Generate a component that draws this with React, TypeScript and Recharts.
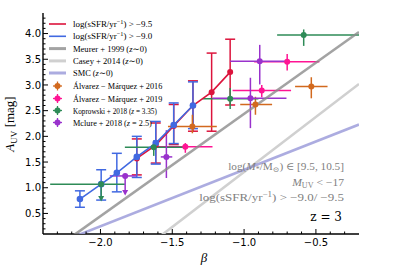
import React, { useLayoutEffect, useRef, useState } from 'react';
import { ComposedChart, Scatter, XAxis, YAxis, ErrorBar } from 'recharts';

// ---------- axes ----------
const xDomain = [-2.4, -0.2];
const yDomain = [0.1, 4.4];
const xTickValues = [-2.3, -2.2, -2.1, -2.0, -1.9, -1.8, -1.7, -1.6, -1.5, -1.4, -1.3, -1.2, -1.1, -1.0, -0.9, -0.8, -0.7, -0.6, -0.5, -0.4, -0.3];
const xMajorTicks = [-2.0, -1.5, -1.0, -0.5];
const xTickLabels = ['−2.0', '−1.5', '−1.0', '−0.5'];
const yTickValues = [0.2, 0.3, 0.4, 0.5, 0.6, 0.7, 0.8, 0.9, 1.0, 1.1, 1.2, 1.3, 1.4, 1.5, 1.6, 1.7, 1.8, 1.9, 2.0, 2.1, 2.2, 2.3, 2.4, 2.5, 2.6, 2.7, 2.8, 2.9, 3.0, 3.1, 3.2, 3.3, 3.4, 3.5, 3.6, 3.7, 3.8, 3.9, 4.0, 4.1, 4.2, 4.3];
const yMajorTicks = [0.5, 1.0, 1.5, 2.0, 2.5, 3.0, 3.5, 4.0];
const yTickLabels = ['0.5', '1.0', '1.5', '2.0', '2.5', '3.0', '3.5', '4.0'];

// ---------- relations ----------
const meurerBeta = [-2.4, -0.2];
const meurerA = [-0.35, 4.03];
const caseyBeta = [-2.4, -0.2];
const caseyA = [-1.69, 3.02];
const smcBeta = [-2.4, -0.2];
const smcA = [-0.19, 2.23];

// ---------- this work ----------
const redBeta = [-1.747, -1.615, -1.49, -1.356, -1.226, -1.097];
const redA = [1.57, 1.83, 2.2, 2.6, 2.86, 3.25];
const redALo = [1.25, 1.48, 1.84, 2.1, 2.1, 2.61];
const redAHi = [1.95, 2.26, 2.62, 3.08, 3.62, 3.89];

const blueBeta = [-2.143, -1.995, -1.886, -1.747, -1.615, -1.49, -1.356];
const blueA = [0.78, 1.07, 1.29, 1.6, 1.87, 2.22, 2.6];
const blueALo = [0.62, 0.76, 0.92, 1.2, 1.46, 1.86, 2.15];
const blueAHi = [0.94, 1.35, 1.67, 2.0, 2.29, 2.65, 3.06];

// ---------- literature ----------
const am16Beta = [-1.36, -0.921, -0.532];
const am16A = [2.19, 2.62, 2.97];
const am16BetaLo = [-1.53, -1.027, -0.645];
const am16BetaHi = [-1.19, -0.805, -0.419];
const am16ALo = [2.06, 2.42, 2.74];
const am16AHi = [2.42, 2.77, 3.15];

const am19Beta = [-1.409, -0.877, -0.7];
const am19A = [1.8, 2.89, 3.45];
const am19BetaLo = [-1.61, -1.08, -0.93];
const am19BetaHi = [-1.22, -0.673, -0.476];
const am19ALo = [1.68, 2.76, 3.28];
const am19AHi = [1.87, 3.0, 3.6];

const kopBeta = [-1.995, -1.629, -1.097, -0.585];
const kopA = [1.07, 1.79, 2.73, 3.97];
const kopBetaLo = [-2.35, -1.83, -1.29, -0.77];
const kopBetaHi = [-1.83, -1.42, -0.9, -0.2];
const kopALo = [0.78, 1.62, 2.53, 3.76];
const kopAHi = [1.07, 1.92, 2.94, 4.08];
const kopLimitBeta = [-1.995];
const kopLimitA = [0.78];

const mclBeta = [-1.828, -1.541, -0.956, -0.891];
const mclA = [1.23, 1.6, 2.74, 3.46];
const mclBetaLo = [-1.935, -1.58, -1.22, -1.097];
const mclBetaHi = [-1.75, -1.5, -0.705, -0.7];
const mclALo = [0.9, 1.19, 2.16, 3.01];
const mclAHi = [1.23, 2.12, 3.14, 3.78];
const mclLimitBeta = [-1.828];
const mclLimitA = [0.9];

// ---------- labels ----------
const legendLabels = [
  'log(sSFR/yr^−1^) > −9.5',
  'log(sSFR/yr^−1^) > −9.0',
  'Meurer + 1999 (|z|∼0)',
  'Casey + 2014 (|z|∼0)',
  'SMC (|z|∼0)',
  'Álvarez − Márquez + 2016',
  'Álvarez − Márquez + 2019',
  'Koprowski + 2018 (|z| = 3.35)',
  'Mclure + 2018 (|z| = 2.5)',
];
const noteLabels = ['log(|M|_*_/M_⊙_) ∈ [9.5, 10.5]', '|M|_UV_ < −17', 'log(sSFR/yr^−1^) > −9.0/ −9.5'];
const redshiftLabel = 'z = 3';
const yLabel = '|A|_UV_ [mag]';
const xLabel = '|β|';

// ---------- colours ----------
const RED = '#dc143c';
const BLUE = '#4169e1';
const ORANGE = '#d2691e';
const PINK = '#ff1493';
const GREEN = '#2e8b57';
const PURPLE = '#9932cc';
const MEURER = '#8c8c8c';
const CASEY = '#d0d0d0';
const SMC = '#a3a3dd';

const SERIF = '"Liberation Serif", "DejaVu Serif", serif';
const SANS = '"DejaVu Sans", sans-serif';

// text widths (layout only)
const legendTextWidths = [80, 80, 74, 70, 40, 90, 90, 84, 79];
const noteTextWidths = [116, 53, 145];

const pts = (b: number[], a: number[]) => b.map((x, i) => ({ x, y: a[i] }));
const withErr = (b: number[], a: number[], bLo: number[] | null, bHi: number[] | null, aLo: number[], aHi: number[]) =>
  b.map((x, i) => ({
    x,
    y: a[i],
    ex: bLo && bHi ? [x - bLo[i], bHi[i] - x] : [0, 0],
    ey: [a[i] - aLo[i], aHi[i] - a[i]],
  }));

const renderRich = (s: string, fs: number) => {
  const toks = s.split(/(\^[^\^]*\^|_[^_]*_|\|[^|]*\|)/).filter((t) => t.length > 0);
  let shift = 0;
  return toks.map((t, i) => {
    let target = 0;
    let txt = t;
    const st: any = {};
    if (t[0] === '^') {
      target = -0.38 * fs;
      txt = t.slice(1, -1);
      st.fontSize = fs * 0.7;
    } else if (t[0] === '_') {
      target = 0.22 * fs;
      txt = t.slice(1, -1);
      st.fontSize = fs * 0.7;
    } else if (t[0] === '|') {
      txt = t.slice(1, -1);
      st.fontStyle = 'italic';
    }
    const dy = target - shift;
    shift = target;
    return (
      <tspan key={i} dy={dy} style={st}>
        {txt}
      </tspan>
    );
  });
};

// text that is stretched horizontally to a given width
const FitText = (props: any) => {
  const { x, y, width, anchor, fontSize, fill, fontFamily, text } = props;
  const ref = useRef<SVGTextElement>(null);
  const [s, setS] = useState(1);
  useLayoutEffect(() => {
    if (ref.current) {
      const w = ref.current.getBBox().width;
      if (w > 0) setS(width / w);
    }
  }, [width, text]);
  return (
    <g transform={`translate(${x},${y}) scale(${s},1)`}>
      <text ref={ref} x={0} y={0} textAnchor={anchor || 'start'} fontFamily={fontFamily} fontSize={fontSize} fill={fill} style={{ whiteSpace: 'pre' }}>
        {renderRich(text, fontSize)}
      </text>
    </g>
  );
};

const near = (arr: number[], v: number) => arr.findIndex((m) => Math.abs(m - v) < 1e-6);

const XTickBottom = (p: any) => {
  const k = near(xMajorTicks, p.payload.value);
  return (
    <g>
      <line x1={p.x} x2={p.x} y1={p.y} y2={p.y - (k >= 0 ? 5 : 2.5)} stroke="#000" strokeWidth={1} />
      {k >= 0 && (
        <text x={p.x} y={p.y + 12} textAnchor="middle" fontFamily={SANS} fontSize={10} fill="#000">
          {xTickLabels[k]}
        </text>
      )}
    </g>
  );
};
const XTickTop = (p: any) => {
  const k = near(xMajorTicks, p.payload.value);
  return <line x1={p.x} x2={p.x} y1={p.y} y2={p.y + (k >= 0 ? 5 : 2.5)} stroke="#000" strokeWidth={1} />;
};
const YTickLeft = (p: any) => {
  const k = near(yMajorTicks, p.payload.value);
  return (
    <g>
      <line x1={p.x} x2={p.x + (k >= 0 ? 5 : 2.5)} y1={p.y} y2={p.y} stroke="#000" strokeWidth={1} />
      {k >= 0 && (
        <text x={p.x - 2} y={p.y + 3.6} textAnchor="end" fontFamily={SANS} fontSize={10} fill="#000">
          {yTickLabels[k]}
        </text>
      )}
    </g>
  );
};
const YTickRight = (p: any) => {
  const k = near(yMajorTicks, p.payload.value);
  return <line x1={p.x} x2={p.x - (k >= 0 ? 5 : 2.5)} y1={p.y} y2={p.y} stroke="#000" strokeWidth={1} />;
};

const dot = (color: string, r: number) => (p: any) => <circle cx={p.cx} cy={p.cy} r={r} fill={color} stroke="none" />;
const arrowDown = (color: string) => (p: any) => (
  <path d={`M${p.cx - 3},${p.cy - 3}L${p.cx + 3},${p.cy - 3}L${p.cx},${p.cy + 2.5}Z`} fill={color} />
);
const noShape = () => <g />;

const legendStyles = [
  { kind: 'line', color: RED, w: 1.6, op: 1 },
  { kind: 'line', color: BLUE, w: 1.6, op: 1 },
  { kind: 'line', color: MEURER, w: 3, op: 0.8 },
  { kind: 'line', color: CASEY, w: 3, op: 1 },
  { kind: 'line', color: SMC, w: 3, op: 0.9 },
  { kind: 'mark', color: ORANGE },
  { kind: 'mark', color: PINK },
  { kind: 'mark', color: GREEN },
  { kind: 'mark', color: PURPLE },
];
const legendRowY = [24, 36.3, 48.6, 60.9, 73, 86, 98.5, 110.5, 122.5];

const LegendBox = () => (
  <g>
    {legendStyles.map((s, i) => {
      const y = legendRowY[i];
      return (
        <g key={i}>
          {s.kind === 'line' ? (
            <line x1={49} x2={66} y1={y} y2={y} stroke={s.color} strokeWidth={s.w} strokeOpacity={s.op} />
          ) : (
            <g>
              <line x1={53} x2={62} y1={y} y2={y} stroke={s.color} strokeWidth={1.3} />
              <line x1={57.5} x2={57.5} y1={y - 4.5} y2={y + 4.5} stroke={s.color} strokeWidth={1.3} />
              <circle cx={57.5} cy={y} r={3} fill={s.color} />
            </g>
          )}
          <FitText x={73} y={y + 3} width={legendTextWidths[i]} fontSize={8.8} fontFamily={SERIF} fill="#000" text={legendLabels[i]} />
        </g>
      );
    })}
  </g>
);

export default function App() {
  const meurer = pts(meurerBeta, meurerA);
  const casey = pts(caseyBeta, caseyA);
  const smc = pts(smcBeta, smcA);
  const red = withErr(redBeta, redA, null, null, redALo, redAHi);
  const blue = withErr(blueBeta, blueA, null, null, blueALo, blueAHi);
  const am16 = withErr(am16Beta, am16A, am16BetaLo, am16BetaHi, am16ALo, am16AHi);
  const am19 = withErr(am19Beta, am19A, am19BetaLo, am19BetaHi, am19ALo, am19AHi);
  const kop = withErr(kopBeta, kopA, kopBetaLo, kopBetaHi, kopALo, kopAHi);
  const mcl = withErr(mclBeta, mclA, mclBetaLo, mclBetaHi, mclALo, mclAHi);
  const kopLim = pts(kopLimitBeta, kopLimitA);
  const mclLim = pts(mclLimitBeta, mclLimitA);

  const lit = [
    { d: am16, c: ORANGE },
    { d: am19, c: PINK },
    { d: kop, c: GREEN },
    { d: mcl, c: PURPLE },
  ];

  return (
    <div style={{ position: 'absolute', left: 0, top: 0, width: 399, height: 266, background: '#fff' }}>
      <ComposedChart width={399} height={266} margin={{ top: 13, right: 40, bottom: 0, left: 0 }}>
        <XAxis
          xAxisId={0}
          dataKey="x"
          type="number"
          domain={xDomain}
          allowDataOverflow
          ticks={xTickValues}
          interval={0}
          height={32}
          tickSize={0}
          tickMargin={0}
          tickLine={false}
          tick={XTickBottom}
          axisLine={{ stroke: '#000', strokeWidth: 1.4 }}
        />
        <XAxis
          xAxisId="top"
          orientation="top"
          dataKey="x"
          type="number"
          domain={xDomain}
          allowDataOverflow
          ticks={xTickValues}
          interval={0}
          height={0}
          tickSize={0}
          tickMargin={0}
          tickLine={false}
          tick={XTickTop}
          axisLine={{ stroke: '#000', strokeWidth: 1.4 }}
        />
        <YAxis
          yAxisId={0}
          dataKey="y"
          type="number"
          domain={yDomain}
          allowDataOverflow
          ticks={yTickValues}
          interval={0}
          width={43}
          tickSize={0}
          tickMargin={0}
          tickLine={false}
          tick={YTickLeft}
          axisLine={{ stroke: '#000', strokeWidth: 1.4 }}
        />
        <YAxis
          yAxisId="right"
          orientation="right"
          dataKey="y"
          type="number"
          domain={yDomain}
          allowDataOverflow
          ticks={yTickValues}
          interval={0}
          width={0}
          tickSize={0}
          tickMargin={0}
          tickLine={false}
          tick={YTickRight}
          axisLine={{ stroke: '#000', strokeWidth: 1.4 }}
        />

        <Scatter data={meurer} line={{ stroke: MEURER, strokeWidth: 2.6, strokeOpacity: 0.8 }} shape={noShape} isAnimationActive={false} />
        <Scatter data={casey} line={{ stroke: CASEY, strokeWidth: 2.6 }} shape={noShape} isAnimationActive={false} />
        <Scatter data={smc} line={{ stroke: SMC, strokeWidth: 2.6, strokeOpacity: 0.9 }} shape={noShape} isAnimationActive={false} />

        <Scatter data={red} line={{ stroke: RED, strokeWidth: 1.6 }} shape={dot(RED, 3)} isAnimationActive={false}>
          <ErrorBar dataKey="ey" direction="y" width={5} stroke={RED} strokeWidth={1.5} />
        </Scatter>
        <Scatter data={blue} line={{ stroke: BLUE, strokeWidth: 1.6 }} shape={dot(BLUE, 3.3)} isAnimationActive={false}>
          <ErrorBar dataKey="ey" direction="y" width={5} stroke={BLUE} strokeWidth={1.5} />
        </Scatter>

        {lit.map((s, i) => (
          <Scatter key={i} data={s.d} shape={dot(s.c, 3)} isAnimationActive={false}>
            <ErrorBar dataKey="ex" direction="x" width={0} stroke={s.c} strokeWidth={1.5} />
            <ErrorBar dataKey="ey" direction="y" width={0} stroke={s.c} strokeWidth={1.5} />
          </Scatter>
        ))}
        <Scatter data={kopLim} shape={arrowDown(GREEN)} isAnimationActive={false} />
        <Scatter data={mclLim} shape={arrowDown(PURPLE)} isAnimationActive={false} />
      </ComposedChart>
      <svg width={399} height={266} style={{ position: 'absolute', left: 0, top: 0, pointerEvents: 'none' }}>
        <LegendBox />
        {noteLabels.map((t, i) => (
          <FitText key={i} x={344} y={170 + i * 15.7} anchor="end" width={noteTextWidths[i]} fontSize={10.5} fontFamily={SERIF} fill="#808080" text={t} />
        ))}
        <text x={342} y={220.5} textAnchor="end" fontFamily={'"DejaVu Serif", serif'} fontSize={12} fill="#000" style={{ whiteSpace: 'pre' }}>
          {redshiftLabel}
        </text>
        <text transform="translate(14,124) rotate(-90)" textAnchor="middle" fontFamily={SERIF} fontSize={13} fill="#000" style={{ whiteSpace: 'pre' }}>
          {renderRich(yLabel, 13)}
        </text>
        <text x={204} y={262} textAnchor="middle" fontFamily={SERIF} fontSize={13} fill="#000">
          {renderRich(xLabel, 13)}
        </text>
      </svg>
    </div>
  );
}
